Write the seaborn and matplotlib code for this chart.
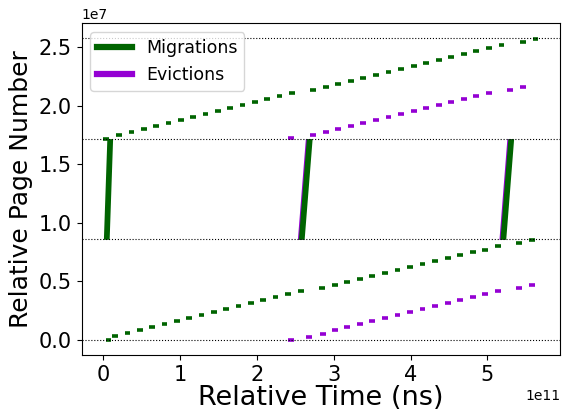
import numpy as np
import pandas as pd
import seaborn as sns
import matplotlib.pyplot as plt
from matplotlib.lines import Line2D

# boundaries of the three page regions (relative page number)
region_edges = [0, 8.6e6, 17.2e6, 25.8e6]

# each batch: start time (x 1e11 ns) and page (x 1e6)
mig_low_t = [0.03, 0.114, 0.277, 0.436, 0.600, 0.759, 0.923, 1.081, 1.241, 1.400,
             1.564, 1.723, 1.881, 2.045, 2.204, 2.368, 2.532, 2.810, 2.974, 3.138,
             3.301, 3.465, 3.628, 3.791, 3.955, 4.119, 4.281, 4.445, 4.609, 4.772,
             4.935, 5.099, 5.378, 5.542]
mig_low_p = [0.0, 0.32, 0.58, 0.83, 1.09, 1.35, 1.60, 1.86, 2.11, 2.37,
             2.62, 2.88, 3.13, 3.39, 3.65, 3.90, 4.16, 4.41, 4.67, 4.92,
             5.18, 5.43, 5.69, 5.95, 6.20, 6.46, 6.71, 6.97, 7.22, 7.48,
             7.73, 7.99, 8.25, 8.50]

mig_high_t = [0.0, 0.165, 0.329, 0.488, 0.652, 0.810, 0.970, 1.133, 1.293, 1.452,
              1.615, 1.774, 1.933, 2.093, 2.256, 2.415, 2.694, 2.858, 3.017, 3.185,
              3.348, 3.512, 3.675, 3.839, 4.003, 4.165, 4.329, 4.493, 4.655, 4.819,
              4.983, 5.146, 5.426, 5.590]
mig_high_p = [17.20, 17.48, 17.76, 18.02, 18.27, 18.53, 18.78, 19.04, 19.29, 19.55,
              19.80, 20.06, 20.32, 20.57, 20.83, 21.11, 21.34, 21.59, 21.87, 22.13,
              22.39, 22.64, 22.90, 23.15, 23.41, 23.66, 23.92, 24.17, 24.43, 24.69,
              24.94, 25.20, 25.45, 25.75]

evi_low_t = [2.403, 2.639, 2.819, 2.974, 3.138, 3.301, 3.465, 3.628, 3.791, 3.955,
             4.119, 4.281, 4.445, 4.609, 4.772, 4.935, 5.099, 5.378, 5.542]
evi_low_p = [0.0, 0.27, 0.55, 0.83, 1.09, 1.35, 1.60, 1.86, 2.11, 2.37,
             2.62, 2.88, 3.13, 3.39, 3.65, 3.90, 4.16, 4.41, 4.67]

evi_high_t = [2.410, 2.694, 2.858, 3.017, 3.185, 3.348, 3.512, 3.675, 3.839, 4.003,
              4.165, 4.329, 4.493, 4.655, 4.819, 4.983, 5.262, 5.426]
evi_high_p = [17.25, 17.50, 17.79, 18.02, 18.27, 18.53, 18.78, 19.04, 19.29, 19.55,
              19.80, 20.06, 20.32, 20.57, 20.83, 21.08, 21.34, 21.59]

batch_len = 0.075  # x 1e11 ns

# steep bursts through the middle region: start time at bottom / top edge (x 1e11 ns)
burst_mig_t0 = [0.0, 2.539, 5.164]
burst_mig_t1 = [0.045, 2.643, 5.267]
burst_evi_t0 = [2.526, 5.151]
burst_evi_t1 = [2.630, 5.254]

colors = {"Migrations": "darkgreen", "Evictions": "darkviolet"}

rows = []
for kind, name, ts, ps in [("Migrations", "ml", mig_low_t, mig_low_p),
                           ("Migrations", "mh", mig_high_t, mig_high_p),
                           ("Evictions", "el", evi_low_t, evi_low_p),
                           ("Evictions", "eh", evi_high_t, evi_high_p)]:
    for i, (t, p) in enumerate(zip(ts, ps)):
        rows.append((kind, f"{name}{i}", t * 1e11, p * 1e6))
        rows.append((kind, f"{name}{i}", (t + batch_len) * 1e11, p * 1e6))
df = pd.DataFrame(rows, columns=["kind", "batch", "time", "page"])

fig, ax = plt.subplots(figsize=(5.63, 4.11), dpi=100)
fig.subplots_adjust(left=0.145, right=0.995, bottom=0.136, top=0.943)

lo, hi = region_edges[1], region_edges[2]
for t0, t1 in zip(burst_evi_t0, burst_evi_t1):
    ax.fill_betweenx([lo, hi], [t0 * 1e11, t1 * 1e11],
                     [(t0 + batch_len) * 1e11, (t1 + batch_len) * 1e11],
                     color=colors["Evictions"], lw=0)
for t0, t1 in zip(burst_mig_t0, burst_mig_t1):
    ax.fill_betweenx([lo, hi], [t0 * 1e11, t1 * 1e11],
                     [(t0 + batch_len) * 1e11, (t1 + batch_len) * 1e11],
                     color=colors["Migrations"], lw=0)

sns.lineplot(data=df, x="time", y="page", hue="kind", units="batch",
             estimator=None, sort=False, palette=colors, lw=2.6,
             solid_capstyle="butt", legend=False, ax=ax)

for e in region_edges:
    ax.axhline(e, color="black", ls=":", lw=0.8)

handles = [Line2D([], [], color=colors[k], lw=4.5) for k in colors]
ax.legend(handles, list(colors), loc="upper left", fontsize=12.5)

ax.set_xlabel("Relative Time (ns)", fontsize=19.5, labelpad=0)
ax.set_ylabel("Relative Page Number", fontsize=18)
ax.tick_params(labelsize=15)

plt.savefig("out.png", dpi=100)
